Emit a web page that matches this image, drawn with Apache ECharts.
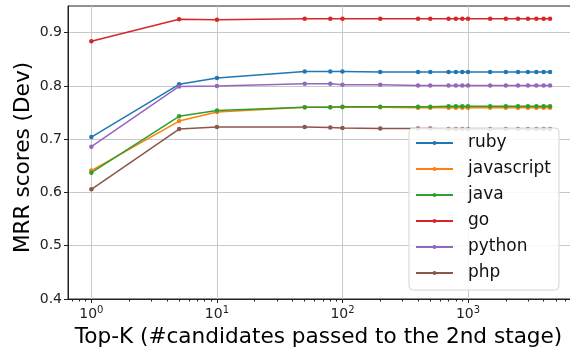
<!DOCTYPE html>
<html>
<head>
<meta charset="utf-8">
<script src="https://cdn.jsdelivr.net/npm/echarts@6/dist/echarts.min.js"></script>
<style>html,body{margin:0;padding:0;background:#fff}#c{width:570px;height:349px}</style>
</head>
<body>
<div id="c"></div>
<script>
const topK = [1,5,10,50,80,100,200,400,500,700,800,900,1000,1500,2000,2500,3000,3500,4000,4500];
const ruby       = [0.704,0.803,0.815,0.827,0.827,0.827,0.826,0.826,0.826,0.826,0.826,0.826,0.826,0.826,0.826,0.826,0.826,0.826,0.826,0.826];
const javascript = [0.641,0.734,0.751,0.760,0.760,0.760,0.760,0.759,0.759,0.759,0.759,0.759,0.759,0.759,0.759,0.759,0.759,0.759,0.759,0.759];
const java       = [0.637,0.743,0.754,0.760,0.760,0.761,0.761,0.761,0.761,0.762,0.762,0.762,0.762,0.762,0.762,0.762,0.762,0.762,0.762,0.762];
const go         = [0.884,0.925,0.924,0.926,0.926,0.926,0.926,0.926,0.926,0.926,0.926,0.926,0.926,0.926,0.926,0.926,0.926,0.926,0.926,0.926];
const python     = [0.686,0.799,0.800,0.804,0.804,0.802,0.802,0.801,0.801,0.801,0.801,0.801,0.801,0.801,0.801,0.801,0.801,0.801,0.801,0.801];
const php        = [0.606,0.719,0.723,0.723,0.722,0.721,0.720,0.720,0.720,0.719,0.719,0.719,0.719,0.719,0.719,0.719,0.719,0.719,0.719,0.719];
const seriesNames = ['ruby','javascript','java','go','python','php'];
const seriesData = [ruby, javascript, java, go, python, php];
const colors = ['#1f77b4','#ff7f0e','#2ca02c','#d62728','#9467bd','#8c564b'];
const xMajorTicks = [0,1,2,3];
const yTicks = [0.4,0.5,0.6,0.7,0.8,0.9];

const lg = Math.log10;
const xMin = -0.186, xMax = 3.836;
const minor = [];
[0.1,1,10,100,1000].forEach(d => { for (let m = 2; m <= 9; m++) { const v = lg(d*m); if (v > xMin && v < xMax) minor.push(v); } });

const font = 'DejaVu Sans';
const chart = echarts.init(document.getElementById('c'));
chart.setOption({
  animation: false,
  textStyle: { fontFamily: font },
  grid: { left: 68, top: 6, width: 505, bottom: 50, show: true, borderColor: '#222', borderWidth: 1, containLabel: false, outerBoundsMode: 'none' },
  xAxis: [{
    type: 'value', min: xMin, max: xMax,
    name: 'Top-K (#candidates passed to the 2nd stage)', nameLocation: 'middle', nameGap: 26,
    nameTextStyle: { fontSize: 21.6, color: '#000', fontFamily: font, padding: [0, 4, 0, 0] },
    axisLine: { show: true, onZero: false, lineStyle: { color: '#222', width: 1 } },
    axisTick: { show: true, customValues: xMajorTicks, length: 4, lineStyle: { color: '#222' } },
    axisLabel: { customValues: xMajorTicks, color: '#222', fontSize: 14, fontFamily: font, margin: 6,
      formatter: v => '10{s|' + Math.round(v) + '}',
      rich: { s: { fontSize: 10, fontFamily: font, color: '#222', padding: [0,0,8,0] } } },
    splitLine: { show: true, customValues: xMajorTicks, lineStyle: { color: '#c8c8c8', width: 1 } }
  }, {
    type: 'value', min: xMin, max: xMax, position: 'bottom', offset: 0,
    axisLine: { show: false, onZero: false },
    axisTick: { show: true, customValues: minor, length: 2.5, lineStyle: { color: '#222' } },
    axisLabel: { show: false },
    splitLine: { show: false }
  }],
  yAxis: {
    type: 'value', min: 0.4, max: 0.95,
    name: 'MRR scores (Dev)', nameLocation: 'middle', nameGap: 34, nameMoveOverlap: false,
    nameTextStyle: { fontSize: 21.6, color: '#000', fontFamily: font, padding: [0, 10, 0, 0] },
    axisLine: { show: true, onZero: false, lineStyle: { color: '#222', width: 1 } },
    axisTick: { show: true, customValues: yTicks, length: 4, lineStyle: { color: '#222' } },
    axisLabel: { customValues: yTicks, color: '#222', fontSize: 14, fontFamily: font, margin: 6, formatter: v => v.toFixed(1) },
    splitLine: { show: true, customValues: yTicks, lineStyle: { color: '#c8c8c8', width: 1 } }
  },
  legend: {
    orient: 'vertical', left: 409, top: 128,
    data: seriesNames,
    itemWidth: 37, itemHeight: 5, itemGap: 6,
    padding: [5, 8, 7, 6],
    backgroundColor: 'rgba(255,255,255,0.85)', borderColor: '#d5d5d5', borderWidth: 1, borderRadius: 4,
    textStyle: { fontSize: 17, color: '#111', fontFamily: font, lineHeight: 20, padding: [0,0,0,10] }
  },
  series: seriesNames.map((n, i) => ({
    name: n, type: 'line', xAxisIndex: 0,
    data: topK.map((k, j) => [lg(k), seriesData[i][j]]),
    symbol: 'circle', symbolSize: 4.5, showSymbol: true,
    color: colors[i],
    lineStyle: { width: 1.5, color: colors[i] },
    itemStyle: { color: colors[i] }
  }))
});
</script>
</body>
</html>
